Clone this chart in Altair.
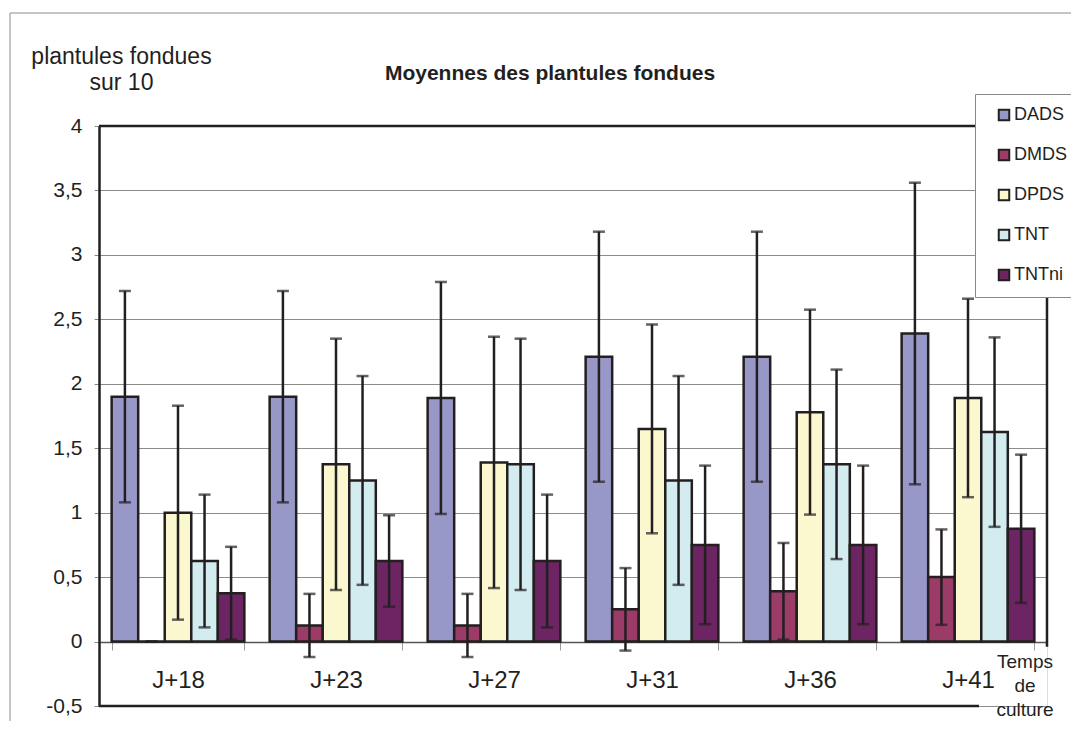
import altair as alt
import pandas as pd

categories = ["J+18", "J+23", "J+27", "J+31", "J+36", "J+41"]
series = ["DADS", "DMDS", "DPDS", "TNT", "TNTni"]
colors = ["#9898c8", "#9b3b67", "#fbf8d0", "#d2ecf0", "#6c2462"]

dads_mean = [1.9, 1.9, 1.89, 2.21, 2.21, 2.39]
dads_err = [0.82, 0.82, 0.90, 0.97, 0.97, 1.17]
dmds_mean = [0.0, 0.125, 0.125, 0.25, 0.39, 0.5]
dmds_err = [0.0, 0.245, 0.245, 0.32, 0.375, 0.37]
dpds_mean = [1.0, 1.375, 1.39, 1.65, 1.78, 1.89]
dpds_err = [0.83, 0.975, 0.975, 0.81, 0.795, 0.77]
tnt_mean = [0.625, 1.25, 1.375, 1.25, 1.375, 1.625]
tnt_err = [0.515, 0.81, 0.975, 0.81, 0.735, 0.735]
tntni_mean = [0.375, 0.625, 0.625, 0.75, 0.75, 0.875]
tntni_err = [0.36, 0.355, 0.515, 0.615, 0.615, 0.575]

y_ticks = [-0.5, 0, 0.5, 1, 1.5, 2, 2.5, 3, 3.5, 4]

means = [dads_mean, dmds_mean, dpds_mean, tnt_mean, tntni_mean]
errs = [dads_err, dmds_err, dpds_err, tnt_err, tntni_err]
rows = []
for s, m, e in zip(series, means, errs):
    for c, mv, ev in zip(categories, m, e):
        rows.append({"cat": c, "series": s, "mean": mv, "lo": mv - ev, "hi": mv + ev})
df = pd.DataFrame(rows)

INK = "#231f20"
FONT = "Liberation Sans"

x_enc = alt.X(
    "cat:N", sort=categories,
    scale=alt.Scale(paddingInner=0.16, paddingOuter=0.08),
    axis=alt.Axis(title=None, orient="bottom", offset=-64, domainColor="#555555",
                  domainWidth=1.5, tickBand="extent", tickColor="#999999", tickSize=8,
                  labelFontSize=24, labelPadding=18, labelAngle=0, labelColor=INK,
                  grid=False, labelFont=FONT),
)
xo_enc = alt.XOffset("series:N", sort=series, scale=alt.Scale(paddingInner=0, paddingOuter=0))
y_scale = alt.Scale(domain=[-0.5, 4], nice=False, zero=False)

base = alt.Chart(df)

bars = base.mark_bar(stroke=INK, strokeWidth=2.5).encode(
    x=x_enc,
    xOffset=xo_enc,
    y=alt.Y("mean:Q", scale=y_scale,
            axis=alt.Axis(values=y_ticks,
                          labelExpr="replace(toString(datum.value), '.', ',')",
                          domainColor=INK, domainWidth=2.5, tickColor="#888888",
                          tickSize=5, labelFontSize=21, labelPadding=12, labelColor=INK,
                          gridColor="#8c8c8c", gridWidth=1, labelFont=FONT,
                          title=["plantules fondues", "sur 10"], titleAngle=0,
                          titleAlign="center", titleBaseline="top", titleX=22, titleY=-81,
                          titleFontSize=23, titleFontWeight="normal", titleLineHeight=26,
                          titleColor=INK, titleFont=FONT)),
    color=alt.Color("series:N", sort=series,
                    scale=alt.Scale(domain=series, range=colors),
                    legend=alt.Legend(title=None, orient="none", legendX=876, legendY=-32,
                                      padding=12, symbolOffset=8, symbolType="square",
                                      symbolSize=110, symbolStrokeColor=INK,
                                      symbolStrokeWidth=2, labelFontSize=18, labelOffset=1,
                                      rowPadding=20, fillColor="white", strokeColor="#888888",
                                      labelColor=INK, labelFont=FONT)),
)

err_line = base.mark_rule(color=INK, strokeWidth=2.5).encode(
    x=alt.X("cat:N", sort=categories), xOffset=xo_enc, y="lo:Q", y2="hi:Q"
)
cap_lo = base.mark_tick(color=INK, thickness=2.5, size=12, orient="horizontal").encode(
    x=alt.X("cat:N", sort=categories), xOffset=xo_enc, y="lo:Q"
)
cap_hi = base.mark_tick(color=INK, thickness=2.5, size=12, orient="horizontal").encode(
    x=alt.X("cat:N", sort=categories), xOffset=xo_enc, y="hi:Q"
)

one = alt.Chart(pd.DataFrame({"k": [0]}))
top_border = one.mark_rule(color=INK, strokeWidth=2.5).encode(
    x=alt.value(0), x2=alt.value(948), y=alt.datum(4)
)
right_border = one.mark_rule(color=INK, strokeWidth=2.5).encode(
    x=alt.value(948), y=alt.datum(4), y2=alt.datum(-0.04)
)
bottom_border = one.mark_rule(color=INK, strokeWidth=2.5).encode(
    x=alt.value(0), x2=alt.value(880), y=alt.datum(-0.5)
)
outer_left = one.mark_rule(color="#8a8a8a", strokeWidth=1).encode(
    x=alt.value(-89), y=alt.value(-113), y2=alt.value(700)
)
outer_top = one.mark_rule(color="#8a8a8a", strokeWidth=1).encode(
    x=alt.value(-89), x2=alt.value(1000), y=alt.value(-113)
)
title_txt = one.mark_text(text="Moyennes des plantules fondues", fontWeight="bold",
                          fontSize=21, align="center", baseline="middle", color=INK,
                          font=FONT).encode(x=alt.value(451), y=alt.value(-52))
xtitle_txt = one.mark_text(text=["Temps", "de", "culture"], fontSize=19, align="center",
                           baseline="top", lineHeight=24, color=INK,
                           font=FONT).encode(x=alt.value(926), y=alt.value(527))

chart = alt.layer(
    outer_left, outer_top, bars, err_line, cap_lo, cap_hi,
    top_border, right_border, bottom_border, title_txt, xtitle_txt
).properties(
    width=948, height=580,
    autosize=alt.AutoSizeParams(type="none"),
    padding={"left": 91, "top": 118, "right": 24, "bottom": 15},
).configure_view(stroke=None).configure(font=FONT, background="white")

chart.save("out.html", embed_options={"renderer": "svg", "actions": False})
